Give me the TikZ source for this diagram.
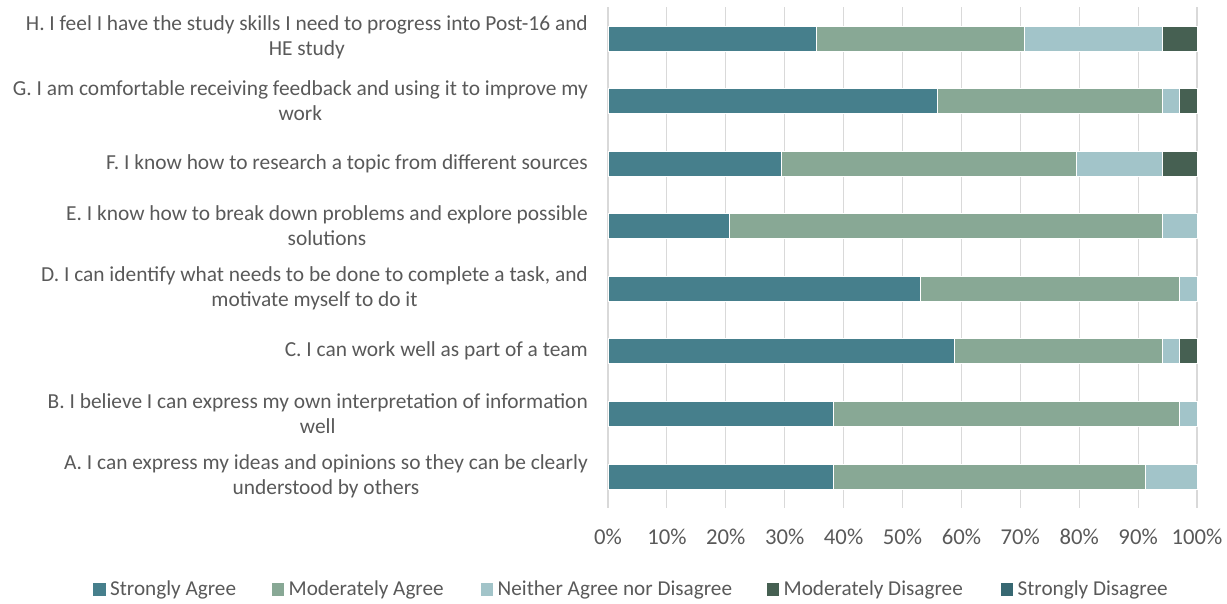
\documentclass[tikz,border=0pt]{standalone}
\usepackage{fontspec}
\setmainfont{Carlito}
\usetikzlibrary{positioning}
\definecolor{sagree}{RGB}{70,127,140}
\definecolor{magree}{RGB}{136,168,149}
\definecolor{neither}{RGB}{162,196,201}
\definecolor{mdisagree}{RGB}{70,96,82}
\definecolor{sdisagree}{RGB}{55,104,114}
\definecolor{gridgray}{RGB}{217,217,217}
\definecolor{labelgray}{RGB}{89,89,89}

\begin{document}
\begin{tikzpicture}[x=1pt, y=-1pt, text=labelgray,
    gridline/.style={draw=gridgray, line width=1.1pt},
    seg/.style={draw=white, line width=0.4pt},
    cat/.style={anchor=east, align=center, inner sep=0pt, font=\fontsize{21.4}{24.8}\selectfont},
    tick/.style={anchor=center, inner sep=0pt, font=\fontsize{22.7}{27}\selectfont},
    key/.style={inner sep=0pt, minimum size=12.5pt},
    keytext/.style={anchor=west, inner sep=0pt, font=\fontsize{21.2}{24}\selectfont}]
   \useasboundingbox (0,0) rectangle (1227,603);

   % grid and axis labels
   \foreach \p in {0,...,10} {
    \pgfmathtruncatemacro{\pc}{10*\p}
    \draw[gridline] (608+58.9*\p,7) -- (608+58.9*\p,508);
    \node[tick] (t\p) at (608+58.9*\p,537) {\pc\%};
   }

   % bars, counts out of 34
   \begin{scope}[xshift=608pt, x=17.3235pt]
    \foreach \y/\a/\b/\c/\d in {38.4/12/24/32/34, 100.9/19/32/33/34, 163.5/10/27/32/34,
      226/7/32/34/34, 288.6/18/33/34/34, 351.1/20/32/33/34, 413.7/13/33/34/34, 476.2/13/31/34/34} {
     \fill[seg, fill=sagree] (0,\y-12.5) rectangle (\a,\y+12.5);
     \fill[seg, fill=magree] (\a,\y-12.5) rectangle (\b,\y+12.5);
     \fill[seg, fill=neither] (\b,\y-12.5) rectangle (\c,\y+12.5);
     \fill[seg, fill=mdisagree] (\c,\y-12.5) rectangle (\d,\y+12.5);
    }
   \end{scope}

   % statements
   \node[cat] (h) at (588,37) {H. I feel I have the study skills I need to progress into Post-16 and\\HE study};
   \node[cat] (g) at (588,100.9) {G. I am comfortable receiving feedback and using it to improve my\\work};
   \node[cat] (f) at (588,163.5) {F. I know how to research a topic from different sources};
   \node[cat] (e) at (588,226) {E. I know how to break down problems and explore possible\\solutions};
   \node[cat] (d) at (588,288.6) {D. I can identify what needs to be done to complete a task, and\\motivate myself to do it};
   \node[cat] (c) at (588,351.1) {C. I can work well as part of a team};
   \node[cat] (b) at (588,413.7) {B. I believe I can express my own interpretation of information\\well};
   \node[cat] (a) at (588,476.2) {A. I can express my ideas and opinions so they can be clearly\\understood by others};

   % legend
   \node[key, fill=sagree] (k1) at (99.5,589.5) {};
   \node[keytext, right=4pt of k1] (l1) {Strongly Agree};
   \node[key, fill=magree] (k2) at (278,589.5) {};
   \node[keytext, right=4pt of k2] (l2) {Moderately Agree};
   \node[key, fill=neither] (k3) at (487,589.5) {};
   \node[keytext, right=4pt of k3] (l3) {Neither Agree nor Disagree};
   \node[key, fill=mdisagree] (k4) at (773,589.5) {};
   \node[keytext, right=4pt of k4] (l4) {Moderately Disagree};
   \node[key, fill=sdisagree] (k5) at (1007,589.5) {};
   \node[keytext, right=4pt of k5] (l5) {Strongly Disagree};
\end{tikzpicture}
\end{document}
